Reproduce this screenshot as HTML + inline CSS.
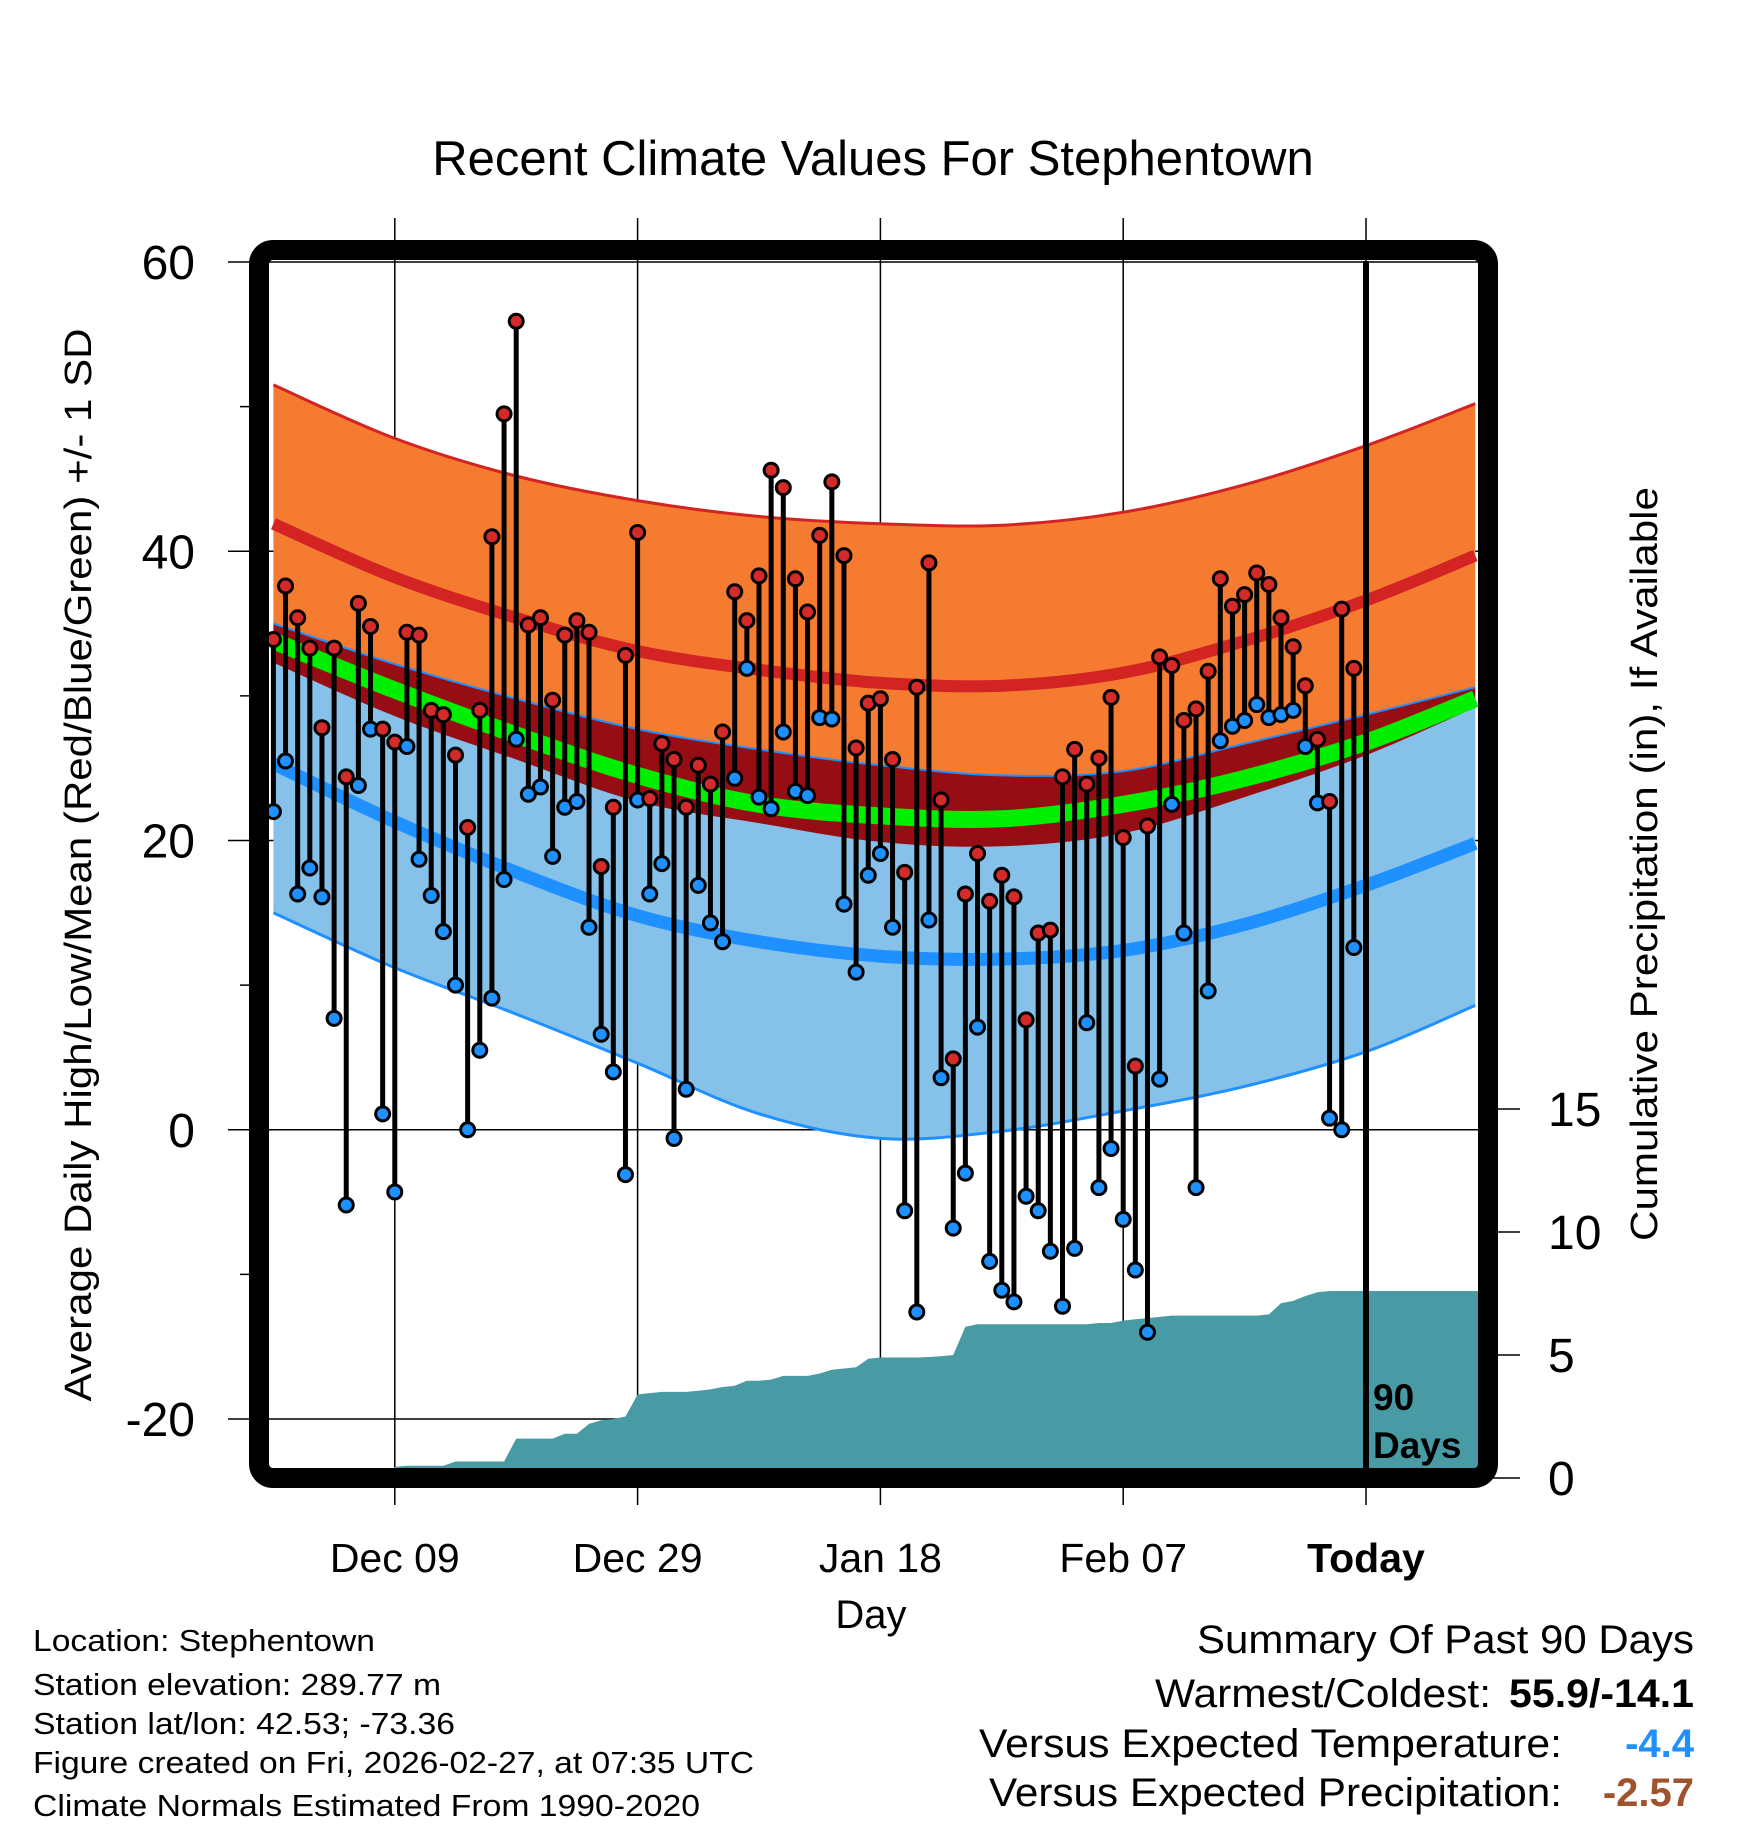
<!DOCTYPE html>
<html><head><meta charset="utf-8"><style>
html,body{margin:0;padding:0;background:#fff;}
svg{display:block;font-family:"Liberation Sans",sans-serif;}
</style></head><body>
<svg id="chart" width="1748" height="1828" viewBox="0 0 1748 1828" xmlns="http://www.w3.org/2000/svg">
<defs><clipPath id="plotclip"><rect x="269" y="261" width="1209" height="1207"/></clipPath></defs>
<text x="873" y="175" font-size="49" text-anchor="middle">Recent Climate Values For Stephentown</text>
<g id="grid"></g>
<g id="plot" clip-path="url(#plotclip)"></g>
<rect x="259" y="250" width="1229" height="1228" rx="14" fill="none" stroke="#000" stroke-width="20"/>
<g id="axes"></g>
<text transform="translate(91,865) rotate(-90)" font-size="38" text-anchor="middle" textLength="1073" lengthAdjust="spacingAndGlyphs">Average Daily High/Low/Mean (Red/Blue/Green) +/- 1 SD</text>
<text transform="translate(1657,864) rotate(-90)" font-size="38" text-anchor="middle" textLength="754" lengthAdjust="spacingAndGlyphs">Cumulative Precipitation (in), If Available</text>
<text x="871" y="1628" font-size="40" text-anchor="middle">Day</text>
<text x="1373" y="1410" font-size="37" font-weight="bold">90</text>
<text x="1373" y="1458" font-size="37" font-weight="bold">Days</text>
<g font-size="31">
<text x="33" y="1651" textLength="342" lengthAdjust="spacingAndGlyphs">Location: Stephentown</text>
<text x="33" y="1695" textLength="408" lengthAdjust="spacingAndGlyphs">Station elevation: 289.77 m</text>
<text x="33" y="1734" textLength="422" lengthAdjust="spacingAndGlyphs">Station lat/lon: 42.53; -73.36</text>
<text x="33" y="1773" textLength="721" lengthAdjust="spacingAndGlyphs">Figure created on Fri, 2026-02-27, at 07:35 UTC</text>
<text x="33" y="1816" textLength="667" lengthAdjust="spacingAndGlyphs">Climate Normals Estimated From 1990-2020</text>
</g>
<g font-size="40">
<text x="1694" y="1653" text-anchor="end" textLength="497" lengthAdjust="spacingAndGlyphs">Summary Of Past 90 Days</text>
<text x="1491" y="1707" text-anchor="end" textLength="336" lengthAdjust="spacingAndGlyphs">Warmest/Coldest:</text>
<text x="1694" y="1707" text-anchor="end" font-weight="bold" textLength="185" lengthAdjust="spacingAndGlyphs">55.9/-14.1</text>
<text x="1562" y="1757" text-anchor="end" textLength="583" lengthAdjust="spacingAndGlyphs">Versus Expected Temperature:</text>
<text x="1694" y="1757" text-anchor="end" font-weight="bold" fill="#1e90ff">-4.4</text>
<text x="1562" y="1806" text-anchor="end" textLength="573" lengthAdjust="spacingAndGlyphs">Versus Expected Precipitation:</text>
<text x="1694" y="1806" text-anchor="end" font-weight="bold" fill="#a0522d">-2.57</text>
</g>
</svg>
<script>
// ---- data ----
const highs = [33.9,37.6,35.4,33.3,27.8,33.3,24.4,36.4,34.8,27.7,26.8,34.4,34.2,29.0,28.7,25.9,20.9,29.0,41.0,49.5,55.9,34.9,35.4,29.7,34.2,35.2,34.4,18.2,22.3,32.8,41.3,22.9,26.7,25.6,22.3,25.2,23.9,27.5,37.2,35.2,38.3,45.6,44.4,38.1,35.8,41.1,44.8,39.7,26.4,29.5,29.8,25.6,17.8,30.6,39.2,22.8,4.9,16.3,19.1,15.8,17.6,16.1,7.6,13.6,13.8,24.4,26.3,23.9,25.7,29.9,20.2,4.4,21.0,32.7,32.1,28.3,29.1,31.7,38.1,36.2,37.0,38.5,37.7,35.4,33.4,30.7,27.0,22.7,36.0,31.9];
const lows = [22.0,25.5,16.3,18.1,16.1,7.7,-5.2,23.8,27.7,1.1,-4.3,26.5,18.7,16.2,13.7,10.0,0.0,5.5,9.1,17.3,27.0,23.2,23.7,18.9,22.3,22.7,14.0,6.6,4.0,-3.1,22.8,16.3,18.4,-0.6,2.8,16.9,14.3,13.0,24.3,31.9,23.0,22.2,27.5,23.4,23.1,28.5,28.4,15.6,10.9,17.6,19.1,14.0,-5.6,-12.6,14.5,3.6,-6.8,-3.0,7.1,-9.1,-11.1,-11.9,-4.6,-5.6,-8.4,-12.2,-8.2,7.4,-4.0,-1.3,-6.2,-9.7,-14.0,3.5,22.5,13.6,-4.0,9.6,26.9,27.9,28.3,29.4,28.5,28.7,29.0,26.5,22.6,0.8,0.0,12.6];
const precipCum = [0,0,0,0,0,0,0,0,0,0,0.45,0.5,0.5,0.5,0.5,0.67,0.67,0.67,0.67,0.67,1.6,1.6,1.6,1.6,1.8,1.8,2.2,2.35,2.4,2.5,3.4,3.45,3.5,3.5,3.5,3.55,3.6,3.7,3.75,3.95,3.95,4.0,4.15,4.15,4.15,4.25,4.4,4.45,4.5,4.85,4.9,4.9,4.9,4.9,4.92,4.95,5.0,6.15,6.25,6.25,6.25,6.25,6.25,6.25,6.25,6.25,6.25,6.25,6.3,6.3,6.4,6.45,6.5,6.55,6.6,6.6,6.6,6.6,6.6,6.6,6.6,6.6,6.65,7.1,7.2,7.4,7.55,7.6,7.6,7.6];
const normDays = [-90,-80,-70,-60,-50,-40,-30,-20,-10,0,9];
const highPlusSD = [51.5,47.8,45.2,43.5,42.4,41.9,41.8,42.7,44.6,47.3,50.2];
const highMean = [41.9,38.2,35.4,33.1,31.8,30.9,30.7,31.6,33.8,36.6,39.7];
const lowPlusSD = [35.0,32.2,29.8,27.7,26.3,25.2,24.5,24.8,26.7,28.7,30.6];
const meanTemp = [33.8,30.4,27.3,24.5,22.5,21.7,21.5,22.5,24.3,26.8,29.8];
const lowMean = [25.3,21.3,17.8,14.8,13.0,12.0,11.8,12.4,14.2,16.9,19.8];
const lowMinusSD = [15.0,11.2,8.0,4.6,1.1,-0.6,-0.1,1.3,3.0,5.4,8.6];
const yTicks = [60,40,20,0,-20];
const yMinor = [50,30,10,-10];
const pTicks = [0,5,10,15];
const xTickDays = [-80,-60,-40,-20,0];
const xTickLabels = ["Dec 09","Dec 29","Jan 18","Feb 07","Today"];

// ---- scales ----
const NS="http://www.w3.org/2000/svg";
function X(d){return 1366+12.14*d;}
function Y(v){return 262+(60-v)*14.4625;}
function YP(p){return 1478-p*24.6;}
function dayOf(i){return i-90;}
function mk(tag,attrs,parent){const e=document.createElementNS(NS,tag);for(const k in attrs)e.setAttribute(k,attrs[k]);parent.appendChild(e);return e;}
const plot=document.getElementById('plot'),grid=document.getElementById('grid'),axes=document.getElementById('axes');
function P(vals){return normDays.map((d,i)=>[X(d),Y(vals[i])]);}
// Catmull-Rom smooth path segments (without leading M)
function smooth(p,start){
  let s=start?('M'+p[0][0].toFixed(1)+','+p[0][1].toFixed(1)):('L'+p[0][0].toFixed(1)+','+p[0][1].toFixed(1));
  for(let i=0;i<p.length-1;i++){
    const p0=p[i-1]||p[i],p1=p[i],p2=p[i+1],p3=p[i+2]||p[i+1];
    const c1=[p1[0]+(p2[0]-p0[0])/6,p1[1]+(p2[1]-p0[1])/6];
    const c2=[p2[0]-(p3[0]-p1[0])/6,p2[1]-(p3[1]-p1[1])/6];
    s+=' C'+c1[0].toFixed(1)+','+c1[1].toFixed(1)+' '+c2[0].toFixed(1)+','+c2[1].toFixed(1)+' '+p2[0].toFixed(1)+','+p2[1].toFixed(1);
  }
  return s;
}
function band(top,bot,fill,name){
  const d=smooth(P(top),true)+' '+smooth(P(bot).reverse(),false)+' Z';
  const e=mk('path',{d:d,fill:fill},plot);
  
  
}
function line(vals,color,w,name){
  const e=mk('path',{d:smooth(P(vals),true),fill:'none',stroke:color,'stroke-width':w},plot);
  
  
}
const highMinusSD=highMean.map((m,i)=>2*m-highPlusSD[i]);
band(highPlusSD,lowPlusSD,'#f57b30','high-sd-band');
band(lowPlusSD,lowMinusSD,'#85c1e8','low-sd-band');
band(lowPlusSD,highMinusSD,'#960e14','overlap-band');
line(highPlusSD,'#d32323',3,'high-plus-sd-line');
line(lowPlusSD,'#1e90ff',2,'low-plus-sd-line');
line(lowMinusSD,'#1e90ff',3,'low-minus-sd-line');
line(meanTemp,'#00ee00',17,'mean-temp-line');
line(lowMean,'#1e90ff',13,'low-mean-line');
line(highMean,'#d32323',12,'high-mean-line');

// precip area
{
  let p=[X(dayOf(0))+','+1470];
  precipCum.forEach((v,i)=>p.push(X(dayOf(i)).toFixed(1)+','+YP(v).toFixed(1)));
  p.push('1480,'+YP(precipCum[precipCum.length-1]).toFixed(1));
  p.push('1480,1470');
  const e=mk('polygon',{points:p.join(' '),fill:'#489ba5'},plot);
  
  
}
// grid lines
yTicks.forEach(v=>{
  const e=mk('line',{x1:228,x2:1478,y1:Y(v),y2:Y(v),stroke:'#000','stroke-width':1.5},grid);
  
  
  const t=mk('text',{x:195,y:Y(v)+17,'font-size':48,'text-anchor':'end'},axes);
  t.textContent=String(v);
  
  
});
yMinor.forEach(v=>{
  const e=mk('line',{x1:240,x2:259,y1:Y(v),y2:Y(v),stroke:'#000','stroke-width':1.5},axes);
  
  
});
xTickDays.forEach((d,i)=>{
  const e=mk('line',{x1:X(d),x2:X(d),y1:218,y2:1505,stroke:'#000','stroke-width':1.5},grid);
  
  
  const t=mk('text',{x:X(d),y:1572,'font-size':41,'text-anchor':'middle','font-weight':d===0?'bold':'normal'},axes);
  t.textContent=xTickLabels[i];
  
  
});
pTicks.forEach(p=>{
  const e=mk('line',{x1:1488,x2:1520,y1:YP(p),y2:YP(p),stroke:'#000','stroke-width':1.5},axes);
  
  
  const t=mk('text',{x:1548,y:YP(p)+17,'font-size':48},axes);
  t.textContent=String(p);
  
  
});
// today line
{
  const e=mk('line',{x1:X(0),x2:X(0),y1:261,y2:1468,stroke:'#000','stroke-width':6},plot);
  
  
}
// daily stems and markers
highs.forEach((h,i)=>{
  const x=X(dayOf(i));
  const e=mk('line',{x1:x,x2:x,y1:Y(h),y2:Y(lows[i]),stroke:'#000','stroke-width':5},plot);
  
  
});
highs.forEach((h,i)=>{
  const x=X(dayOf(i));
  const a=mk('circle',{cx:x,cy:Y(h),r:7,fill:'#d52a2a',stroke:'#000','stroke-width':3},plot);
  
  
  const b=mk('circle',{cx:x,cy:Y(lows[i]),r:7,fill:'#1e90ff',stroke:'#000','stroke-width':3},plot);
  
  
});
</script>
</body></html>
